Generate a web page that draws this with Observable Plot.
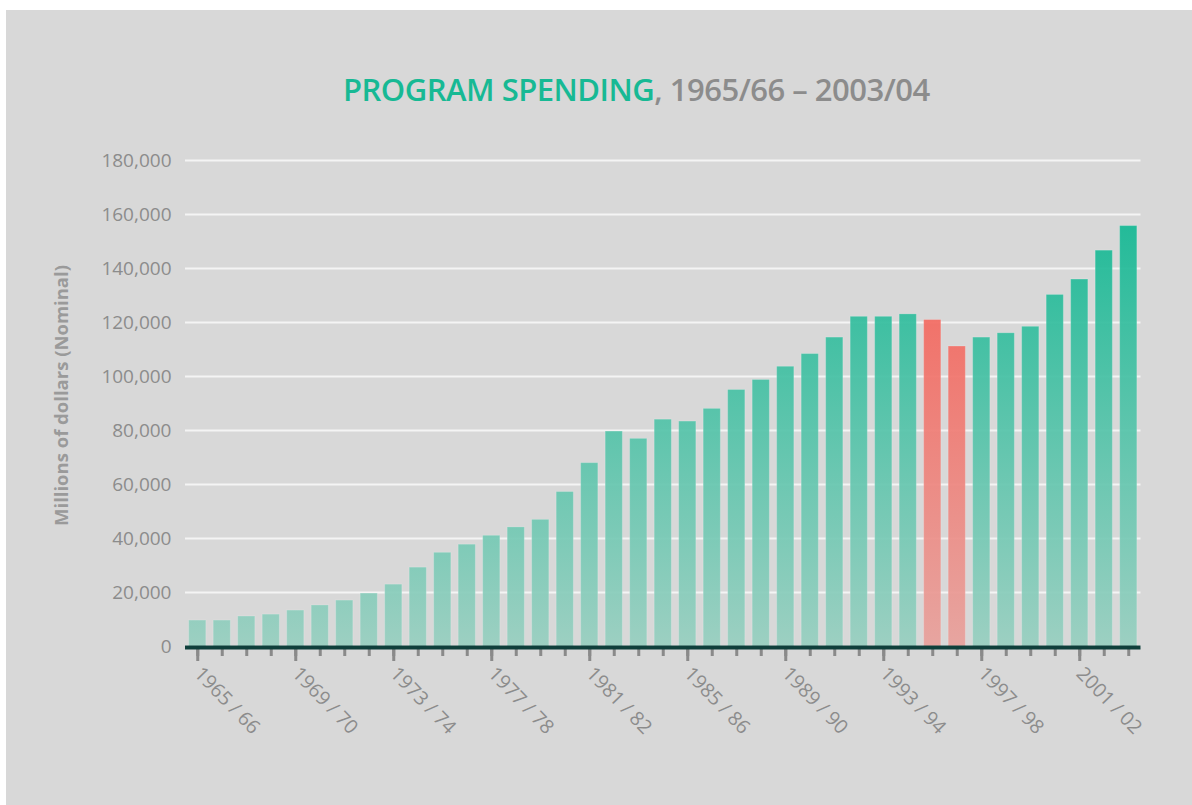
<!DOCTYPE html>
<html>
<head>
<meta charset="utf-8">
<script src="https://cdn.jsdelivr.net/npm/d3@7"></script>
<script src="https://cdn.jsdelivr.net/npm/@observablehq/plot@0.6"></script>
<style>
  html, body { margin: 0; padding: 0; background: #ffffff; }
  #card { position: absolute; left: 6px; top: 10px; width: 1186px; height: 795px; background: #d8d8d8; overflow: hidden; font-family: "Open Sans", sans-serif; }
  #title { position: absolute; left: 337px; top: 64px; font-size: 31px; letter-spacing: -0.5px; font-weight: 600; line-height: 1; white-space: nowrap; }
  #title .g { color: #17b994; }
  #title .k { color: #8c8c8c; }
  #chart { position: absolute; left: 0; top: 110px; }
</style>
</head>
<body>
<div id="card">
  <div id="title"><span class="g">PROGRAM SPENDING</span><span class="k">, 1965/66 – 2003/04</span></div>
  <div id="chart"></div>
</div>
<script>
const fiscalYears = [
  "1965 / 66","1966 / 67","1967 / 68","1968 / 69","1969 / 70","1970 / 71","1971 / 72","1972 / 73",
  "1973 / 74","1974 / 75","1975 / 76","1976 / 77","1977 / 78","1978 / 79","1979 / 80","1980 / 81",
  "1981 / 82","1982 / 83","1983 / 84","1984 / 85","1985 / 86","1986 / 87","1987 / 88","1988 / 89",
  "1989 / 90","1990 / 91","1991 / 92","1992 / 93","1993 / 94","1994 / 95","1995 / 96","1996 / 97",
  "1997 / 98","1998 / 99","1999 / 00","2000 / 01","2001 / 02","2002 / 03","2003 / 04"
];
const spending = [
  9600, 9600, 11100, 11800, 13300, 15200, 17000, 19600,
  22900, 29200, 34700, 37700, 41000, 44100, 46900, 57200,
  67900, 79600, 76900, 84000, 83300, 88000, 95000, 98700,
  103600, 108300, 114400, 122100, 122100, 123000, 120900, 111100,
  114400, 116000, 118400, 130200, 135900, 146600, 155700
];
const cutYears = ["1995 / 96", "1996 / 97"];
const labeledYears = ["1965 / 66","1969 / 70","1973 / 74","1977 / 78","1981 / 82","1985 / 86","1989 / 90","1993 / 94","1997 / 98","2001 / 02"];
const yTicks = [0, 20000, 40000, 60000, 80000, 100000, 120000, 140000, 160000, 180000];

const data = fiscalYears.map((label, i) => ({label, value: spending[i]}));
const greenData = data.filter(d => !cutYears.includes(d.label));
const redData = data.filter(d => cutYears.includes(d.label));

function gradients(index, scales) {
  const y0 = scales.y(0), y1 = scales.y(160000), y2 = scales.y(120000);
  const g = d3.create("svg:g");
  const defs = g.append("defs");
  const gg = defs.append("linearGradient").attr("id", "gGreen")
    .attr("gradientUnits", "userSpaceOnUse").attr("x1", 0).attr("x2", 0).attr("y1", y0).attr("y2", y1);
  gg.append("stop").attr("offset", "0%").attr("stop-color", "#98cfc0");
  gg.append("stop").attr("offset", "100%").attr("stop-color", "#12b893");
  const gr = defs.append("linearGradient").attr("id", "gRed")
    .attr("gradientUnits", "userSpaceOnUse").attr("x1", 0).attr("x2", 0).attr("y1", y0).attr("y2", y2);
  gr.append("stop").attr("offset", "0%").attr("stop-color", "#e8a19c");
  gr.append("stop").attr("offset", "100%").attr("stop-color", "#f36b62");
  return g.node();
}

const chart = Plot.plot({
  width: 1186,
  height: 685,
  marginLeft: 179,
  marginRight: 51.5,
  marginTop: 40,
  marginBottom: 159,
  style: {fontFamily: "Open Sans, sans-serif", fontSize: "19px", color: "#8c8c8c", background: "transparent", overflow: "visible"},
  x: {type: "band", domain: fiscalYears, paddingInner: 0.3, paddingOuter: 0.15, align: 0.5, round: false},
  y: {domain: [0, 180000]},
  marks: [
    gradients,
    Plot.gridY(yTicks, {stroke: "#f4f4f4", strokeOpacity: 1, strokeWidth: 2}),
    Plot.barY(greenData, {x: "label", y: "value", fill: "url(#gGreen)", fillOpacity: 0.93, stroke: "#ffffff", strokeOpacity: 0.18, strokeWidth: 1}),
    Plot.barY(redData, {x: "label", y: "value", fill: "url(#gRed)", fillOpacity: 0.93, stroke: "#ffffff", strokeOpacity: 0.18, strokeWidth: 1}),
    Plot.axisY(yTicks, {tickSize: 0, tickPadding: 14, tickFormat: d3.format(","), label: null}),
    Plot.axisX({tickSize: 10, tickFormat: () => "", stroke: "#8a8a8a", strokeWidth: 3, label: null}),
    Plot.axisX(labeledYears, {tickSize: 15, tickRotate: 46, tickPadding: 9, fontSize: 19.5, stroke: "#8a8a8a", strokeWidth: 3, label: null}),
    Plot.ruleY([0], {stroke: "#0f3f3b", strokeWidth: 4, dy: 1}),
    Plot.text(["Millions of dollars (Nominal)"], {frameAnchor: "left", textAnchor: "middle", dx: -123, dy: -8, rotate: -90, fontSize: 18.5, fontWeight: 700, fill: "#9a9a9a"})
  ]
});
document.getElementById("chart").appendChild(chart);
</script>
</body>
</html>
